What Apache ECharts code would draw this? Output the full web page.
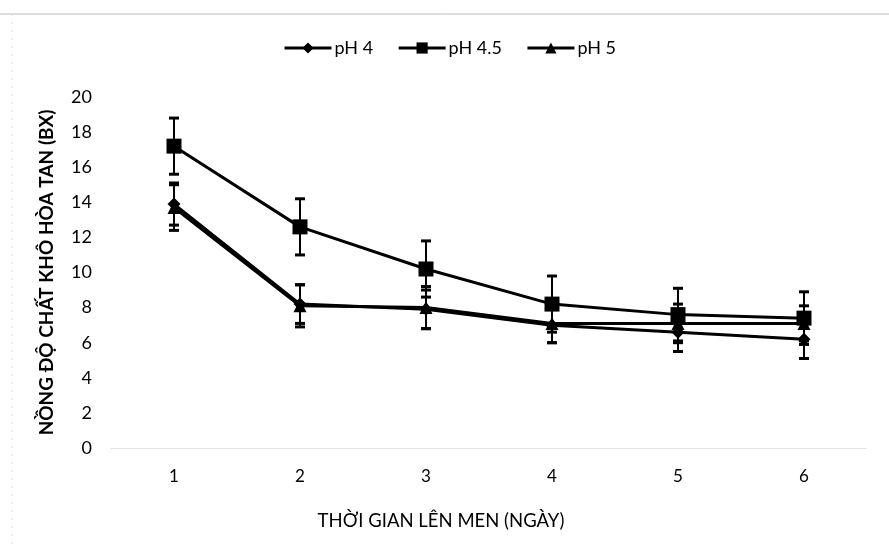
<!DOCTYPE html>
<html>
<head>
<meta charset="utf-8">
<script src="https://cdn.jsdelivr.net/npm/echarts@6/dist/echarts.min.js"></script>
<style>html,body{margin:0;padding:0;background:#fff}#c{width:889px;height:548px}</style>
</head>
<body>
<div id="c"></div>
<script>
var categories = ['1','2','3','4','5','6'];
var yTicks = [0,2,4,6,8,10,12,14,16,18,20];
var ph4 = [13.9, 8.2, 7.9, 7.0, 6.6, 6.2];
var ph4Err = [1.2, 1.1, 1.1, 1.0, 1.1, 1.1];
var ph45 = [17.2, 12.6, 10.2, 8.2, 7.6, 7.4];
var ph45Err = [1.6, 1.6, 1.6, 1.6, 1.5, 1.5];
var ph5 = [13.7, 8.1, 8.0, 7.1, 7.1, 7.1];
var ph5Err = [1.3, 1.2, 1.2, 1.1, 1.1, 1.0];

var FONT = 'Lato';

function errData(vals, errs){
  return vals.map(function(v,i){ return [i, v - errs[i], v + errs[i]]; });
}
function errRender(params, api){
  var x = api.value(0), lo = api.value(1), hi = api.value(2);
  var p1 = api.coord([x, hi]), p2 = api.coord([x, lo]);
  var w = 5;
  return {type:'group', children:[
    {type:'line', shape:{x1:p1[0],y1:p1[1],x2:p2[0],y2:p2[1]}, style:{stroke:'#000', lineWidth:2}},
    {type:'line', shape:{x1:p1[0]-w,y1:p1[1],x2:p1[0]+w,y2:p1[1]}, style:{stroke:'#000', lineWidth:3}},
    {type:'line', shape:{x1:p2[0]-w,y1:p2[1],x2:p2[0]+w,y2:p2[1]}, style:{stroke:'#000', lineWidth:3}}
  ]};
}
function errSeries(vals, errs){
  return {type:'custom', renderItem: errRender, data: errData(vals, errs), encode:{x:0, y:[1,2]}, z:1, silent:true, tooltip:{show:false}};
}

var chart = echarts.init(document.getElementById('c'));
chart.setOption({
  backgroundColor:'#fff',
  animation:false,
  textStyle:{fontFamily:FONT, color:'#000'},
  title:{text:'THỜI GIAN LÊN MEN (NGÀY)', left:436, top:507, textAlign:'center',
    textStyle:{fontFamily:FONT, fontSize:18.5, fontWeight:'normal', color:'#000'}},
  legend:{
    top:39, left:283, padding:0, itemWidth:47, itemHeight:14, itemGap:24,
    lineStyle:{width:3},
    textStyle:{fontFamily:FONT, fontSize:18, color:'#000', padding:[0,0,0,-2]},
    data:['pH 4','pH 4.5','pH 5']
  },
  graphic:[
    {type:'line', shape:{x1:0,y1:14,x2:889,y2:14}, style:{stroke:'#bbb', lineWidth:1}},
    {type:'line', shape:{x1:12,y1:14,x2:12,y2:548}, style:{stroke:'#ddd', lineWidth:1, lineDash:[2,6]}}
  ],
  grid:{left:111, right:22, top:97, bottom:100},
  xAxis:{
    type:'category', data:categories, boundaryGap:true,
    axisLine:{show:true, lineStyle:{color:'#ddd', type:'dotted'}},
    axisTick:{show:false},
    axisLabel:{fontFamily:FONT, fontSize:17, color:'#000', margin:20}
  },
  yAxis:{
    type:'value', min:0, max:20, interval:2,
    name:'NỒNG ĐỘ CHẤT KHÔ HÒA TAN (BX)', nameLocation:'middle', nameGap:55, nameRotate:90,
    nameTextStyle:{fontFamily:FONT, fontSize:19, color:'#000', fontWeight:'bold'},
    axisLine:{show:false}, axisTick:{show:false}, splitLine:{show:false},
    axisLabel:{fontFamily:FONT, fontSize:18, color:'#000', margin:19,
      formatter:function(v){ return yTicks.indexOf(v) >= 0 ? String(v) : ''; }}
  },
  series:[
    errSeries(ph4, ph4Err),
    errSeries(ph45, ph45Err),
    errSeries(ph5, ph5Err),
    {name:'pH 4', type:'line', data:ph4, symbol:'diamond', symbolSize:13,
      lineStyle:{color:'#000', width:3}, itemStyle:{color:'#000'}, z:3},
    {name:'pH 4.5', type:'line', data:ph45, symbol:'rect', symbolSize:15,
      lineStyle:{color:'#000', width:3}, itemStyle:{color:'#000'}, z:3},
    {name:'pH 5', type:'line', data:ph5, symbol:'triangle', symbolSize:13,
      lineStyle:{color:'#000', width:3}, itemStyle:{color:'#000'}, z:3}
  ]
});
</script>
</body>
</html>
